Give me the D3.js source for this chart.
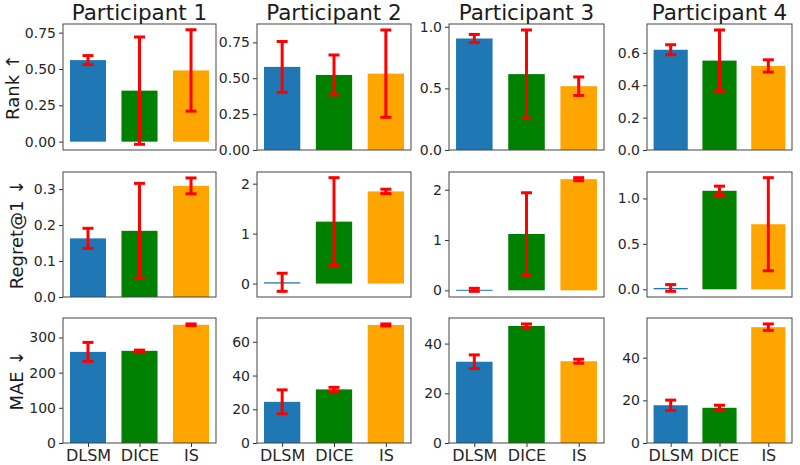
<!DOCTYPE html>
<html><head><meta charset="utf-8">
<script src="https://cdn.jsdelivr.net/npm/d3@7"></script>
<style>body{margin:0;background:#fff} text{font-family:"DejaVu Sans",sans-serif}</style>
</head><body><svg id="c" width="800" height="465"></svg>
<script>
const methods = ["DLSM", "DICE", "IS"];
const participants = ["Participant 1", "Participant 2", "Participant 3", "Participant 4"];
const metricLabels = ["Rank \u2191", "Regret@1 \u2193", "MAE \u2193"];
const barColors = ["#1f77b4", "#008000", "#ffa500"];

// mean values [participant][method]
const rankMean = [[0.561, 0.351, 0.490], [0.579, 0.523, 0.532], [0.905, 0.616, 0.518], [0.619, 0.552, 0.519]];
const rankErr  = [[0.031, 0.369, 0.280], [0.177, 0.139, 0.304], [0.033, 0.358, 0.075], [0.031, 0.189, 0.038]];
const regretMean = [[0.163, 0.184, 0.309], [0.026, 1.240, 1.845], [0.010, 1.120, 2.210], [0.015, 1.084, 0.716]];
const regretErr  = [[0.028, 0.132, 0.022], [0.181, 0.880, 0.044], [0.030, 0.820, 0.030], [0.037, 0.051, 0.512]];
const maeMean = [[259, 262, 336], [24.4, 31.8, 70.0], [32.7, 47.1, 32.9], [17.7, 16.5, 54.3]];
const maeErr  = [[27, 2, 2.4], [7.1, 1.2, 0.6], [2.75, 0.8, 0.8], [2.4, 1.2, 1.5]];

// y tick labels [metric][participant]
const yTickLabels = [
  [["0.00", "0.25", "0.50", "0.75"], ["0.00", "0.25", "0.50", "0.75"], ["0.0", "0.5", "1.0"], ["0.0", "0.2", "0.4", "0.6"]],
  [["0.0", "0.1", "0.2", "0.3"], ["0", "1", "2"], ["0", "1", "2"], ["0.0", "0.5", "1.0"]],
  [["0", "100", "200", "300"], ["0", "20", "40", "60"], ["0", "20", "40"], ["0", "20", "40"]]
];

const means = [rankMean, regretMean, maeMean];
const errs = [rankErr, regretErr, maeErr];

const colLeft = [63, 257, 449, 647], colRight = [216, 411, 604, 792];
const rowTop = [24, 172, 318], rowBottom = [150, 297, 443];
const yLabelX = [19, 23, 23];

const svg = d3.select("#c");

for (let r = 0; r < 3; r++) {
  for (let c = 0; c < 4; c++) {
    const m = means[r][c], e = errs[r][c];
    let lo = 0, hi = 0;
    m.forEach((v, i) => { lo = Math.min(lo, v - e[i]); hi = Math.max(hi, v + e[i], v); });
    const rng = hi - lo;
    const d0 = lo < 0 ? lo - 0.05 * rng : 0;
    const d1 = hi + 0.05 * rng;
    const x = d3.scaleLinear().domain([-0.485, 2.485]).range([colLeft[c], colRight[c]]);
    const y = d3.scaleLinear().domain([d0, d1]).range([rowBottom[r], rowTop[r]]);
    const g = svg.append("g");
    const bw = x(0.35) - x(-0.35);
    g.selectAll("rect.bar").data(m).join("rect").attr("class", "bar")
      .attr("x", (d, i) => x(i) - bw / 2).attr("width", bw)
      .attr("y", d => y(Math.max(d, 0))).attr("height", d => Math.max(Math.abs(y(0) - y(d)), 1))
      .attr("fill", (d, i) => barColors[i]);
    // error bars
    m.forEach((v, i) => {
      const cx = x(i), yl = y(v - e[i]), yh = y(v + e[i]);
      g.append("line").attr("x1", cx).attr("x2", cx).attr("y1", yl).attr("y2", yh)
        .attr("stroke", "#ff0000").attr("stroke-width", 3);
      [yl, yh].forEach(yy => g.append("line").attr("x1", cx - 5.5).attr("x2", cx + 5.5)
        .attr("y1", yy).attr("y2", yy).attr("stroke", "#ff0000").attr("stroke-width", 3));
    });
    // y axis
    const tv = yTickLabels[r][c].map(Number);
    const ya = d3.axisLeft(y).tickValues(tv).tickFormat((d, i) => yTickLabels[r][c][i]).tickSize(4).tickPadding(3);
    const ag = g.append("g").attr("transform", `translate(${colLeft[c]},0)`).call(ya);
    ag.select(".domain").remove();
    ag.selectAll("line").attr("stroke", "#333");
    ag.selectAll("text").attr("font-size", 14).attr("fill", "#262626").attr("font-family", "DejaVu Sans");
    if (r === 2) {
      const xa = d3.axisBottom(x).tickValues([0, 1, 2]).tickFormat(i => methods[i]).tickSize(4).tickPadding(3);
      const xg = g.append("g").attr("transform", `translate(0,${rowBottom[r]})`).call(xa);
      xg.select(".domain").remove();
      xg.selectAll("line").attr("stroke", "#333");
      xg.selectAll("text").attr("font-size", 16).attr("fill", "#262626").attr("font-family", "DejaVu Sans");
    }
    // frame
    g.append("rect").attr("x", colLeft[c]).attr("y", rowTop[r])
      .attr("width", colRight[c] - colLeft[c]).attr("height", rowBottom[r] - rowTop[r])
      .attr("fill", "none").attr("stroke", "#444").attr("stroke-width", 1);
    if (r === 0) {
      svg.append("text").attr("x", (colLeft[c] + colRight[c]) / 2).attr("y", 20)
        .attr("text-anchor", "middle").attr("font-size", 21.5).attr("fill", "#1a1a1a").text(participants[c]);
    }
  }
  const yc = (rowTop[r] + rowBottom[r]) / 2;
  svg.append("text").attr("transform", `translate(${yLabelX[r]},${yc}) rotate(-90)`)
    .attr("text-anchor", "middle").attr("font-size", 18).attr("fill", "#1a1a1a").text(metricLabels[r]);
}
</script></body></html>
